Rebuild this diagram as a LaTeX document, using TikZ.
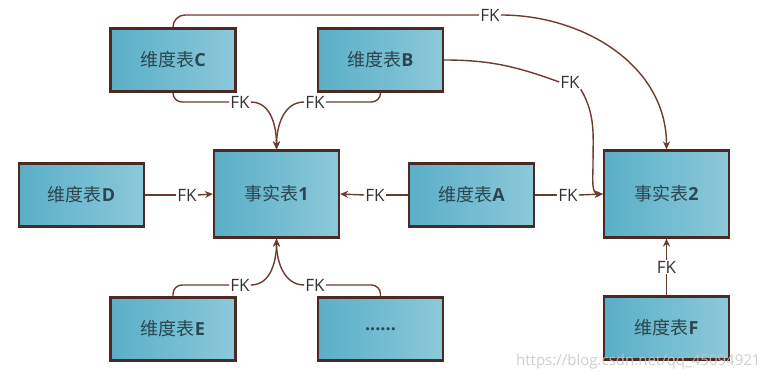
\documentclass[tikz,border=0pt]{standalone}
\usepackage{fontspec}
\setmainfont{Open Sans}
\newfontfamily\cjk{Noto Sans CJK SC}
\usetikzlibrary{arrows.meta}
\definecolor{boxA}{HTML}{5AAFC7}
\definecolor{boxB}{HTML}{8CC8DA}
\definecolor{edgec}{HTML}{4A2A22}
\definecolor{linec}{HTML}{6E3B30}
\definecolor{txtc}{HTML}{2A4650}
\newcommand{\lt}[1]{{\normalfont\bfseries #1}}
\begin{document}
\begin{tikzpicture}[x=1pt,y=-1pt,
 tbl/.style={draw=edgec,line width=2.2pt,left color=boxA,right color=boxB,minimum width=125pt,minimum height=63pt,font=\cjk\fontsize{18}{20}\selectfont,text=txtc,inner sep=0pt},
 fact/.style={tbl,minimum height=87pt},
 lab/.style={fill=white,inner sep=1pt,font=\fontsize{17}{18}\selectfont,text=black!80},
 conn/.style={draw=linec,line width=1.4pt},
 arr/.style={conn,-{Stealth[length=8pt,width=7pt]}}]
\fill[white] (0,0) rectangle (767,379);
\useasboundingbox (0,0) rectangle (767,379);
% tables
\node[tbl]  (C)  at (173,60)    {维度表\lt{C}};
\node[tbl]  (B)  at (380.5,60)  {维度表\lt{B}};
\node[tbl]  (D)  at (81.5,195)  {维度表\lt{D}};
\node[fact] (F1) at (276.5,194) {事实表\lt{1}};
\node[tbl]  (A)  at (471.5,195) {维度表\lt{A}};
\node[fact] (F2) at (666.5,194) {事实表\lt{2}};
\node[tbl]  (E)  at (173,329)   {维度表\lt{E}};
\node[tbl]  (G)  at (380.5,329) {\lt{......}};
\node[tbl]  (F)  at (666.5,328) {维度表\lt{F}};
% labels
\node[lab] (fkTop) at (490,15)  {FK};
\node[lab] (fkB)   at (570,82)  {FK};
\node[lab] (fkC)   at (240,102) {FK};
\node[lab] (fkB2)  at (315,102) {FK};
\node[lab] (fkD)   at (187,195) {FK};
\node[lab] (fkA1)  at (375,195) {FK};
\node[lab] (fkA2)  at (568,195) {FK};
\node[lab] (fkE)   at (240,285) {FK};
\node[lab] (fkG)   at (315,285) {FK};
\node[lab] (fkF)   at (666.5,267) {FK};
\coordinate (bdown) at (593,165);
% connectors
\draw[conn,rounded corners=12pt] (C.north) |- (fkTop.west);
\draw[arr] (fkTop.east) to[out=0,in=90] (F2.north);
\draw[conn] (B.east) to[out=0,in=160] (fkB.west);
\draw[arr] (fkB.south east) to[out=-60,in=90] (bdown) to[out=-90,in=180] (F2.west);
\draw[conn,rounded corners=9pt] (C.south) |- (fkC.west);
\draw[arr] (fkC.east) to[out=0,in=90] (F1.north);
\draw[conn,rounded corners=9pt] (B.south) |- (fkB2.east);
\draw[arr] (fkB2.west) to[out=180,in=90] (F1.north);
\draw[conn] (D.east) -- (fkD.west);
\draw[arr] (fkD.east) -- (F1.west);
\draw[conn] (A.west) -- (fkA1.east);
\draw[arr] (fkA1.west) -- (F1.east);
\draw[conn] (A.east) -- (fkA2.west);
\draw[arr] (fkA2.east) -- (F2.west);
\draw[conn,rounded corners=9pt] (E.north) |- (fkE.west);
\draw[arr] (fkE.east) to[out=0,in=-90] (F1.south);
\draw[conn,rounded corners=9pt] (G.north) |- (fkG.east);
\draw[arr] (fkG.west) to[out=180,in=-90] (F1.south);
\draw[conn] (F.north) -- (fkF.south);
\draw[arr] (fkF.north) -- (F2.south);
% watermark
\node[anchor=east,text=gray!45,opacity=0.85,font=\fontsize{15}{16}\selectfont] (wm) at (764,362) {https://blog.csdn.net/qq\_45094921};
\end{tikzpicture}
\end{document}
